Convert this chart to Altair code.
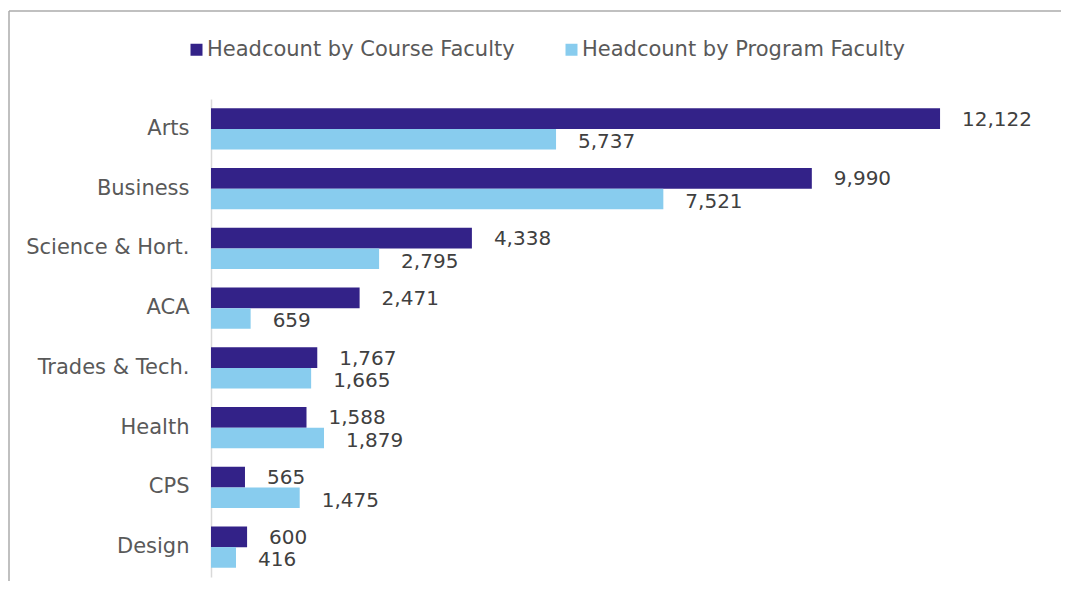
import altair as alt
import pandas as pd

categories = ["Arts", "Business", "Science & Hort.", "ACA", "Trades & Tech.", "Health", "CPS", "Design"]
course_faculty = [12122, 9990, 4338, 2471, 1767, 1588, 565, 600]
program_faculty = [5737, 7521, 2795, 659, 1665, 1879, 1475, 416]
series_names = ["Headcount by Course Faculty", "Headcount by Program Faculty"]
series_colors = ["#332288", "#88CCEE"]

rows = []
for c, a, b in zip(categories, course_faculty, program_faculty):
    rows.append({"category": c, "series": series_names[0], "value": a})
    rows.append({"category": c, "series": series_names[1], "value": b})
df = pd.DataFrame(rows)

FONT = "DejaVu Sans"

base = alt.Chart(df)

y_enc = alt.Y("category:N", sort=categories, title=None,
              scale=alt.Scale(paddingInner=0.31, paddingOuter=0.155),
              axis=alt.Axis(domainColor="#D9D9D9", domainWidth=1.5, ticks=False,
                            labelFontSize=21, labelFont=FONT, labelColor="#595959",
                            labelPadding=22, grid=False))
x_enc = alt.X("value:Q", title=None, axis=None,
              scale=alt.Scale(domain=[0, 14000], nice=False))
yoff = alt.YOffset("series:N", sort=series_names)

bars = base.mark_bar().encode(
    y=y_enc,
    x=x_enc,
    yOffset=yoff,
    color=alt.Color("series:N", sort=series_names,
                    scale=alt.Scale(domain=series_names, range=series_colors),
                    legend=alt.Legend(title=None, orient="none", direction="horizontal",
                                      legendX=-25, legendY=-60,
                                      symbolType="square", symbolSize=144, symbolStrokeWidth=0,
                                      labelFontSize=21, labelFont=FONT, labelColor="#595959",
                                      labelLimit=500, labelOffset=0, columnPadding=46)),
)

labels_course = base.transform_filter(alt.datum.series == series_names[0]).mark_text(
    align="left", baseline="middle", dx=22, dy=1, fontSize=20, font=FONT, color="#404040"
).encode(y=alt.Y("category:N", sort=categories), x="value:Q", yOffset=yoff,
         text=alt.Text("value:Q", format=","))

labels_program = base.transform_filter(alt.datum.series == series_names[1]).mark_text(
    align="left", baseline="middle", dx=22, dy=3, fontSize=20, font=FONT, color="#404040"
).encode(y=alt.Y("category:N", sort=categories), x="value:Q", yOffset=yoff,
         text=alt.Text("value:Q", format=","))

frame_df = pd.DataFrame({"k": [0]})
frame_left = alt.Chart(frame_df).mark_rule(color="#ABABAB", strokeWidth=1.5).encode(
    x=alt.value(-202), y=alt.value(-88), y2=alt.value(482))
frame_top = alt.Chart(frame_df).mark_rule(color="#ABABAB", strokeWidth=1.5).encode(
    x=alt.value(-202), x2=alt.value(850), y=alt.value(-88))

chart = alt.layer(bars, labels_course, labels_program, frame_left, frame_top).properties(
    width=842, height=478,
    padding={"left": 0, "top": 2, "right": 0, "bottom": 0},
).configure(background="white").configure_view(stroke=None)

chart.save("out.html", embed_options={"renderer": "svg", "actions": False})
